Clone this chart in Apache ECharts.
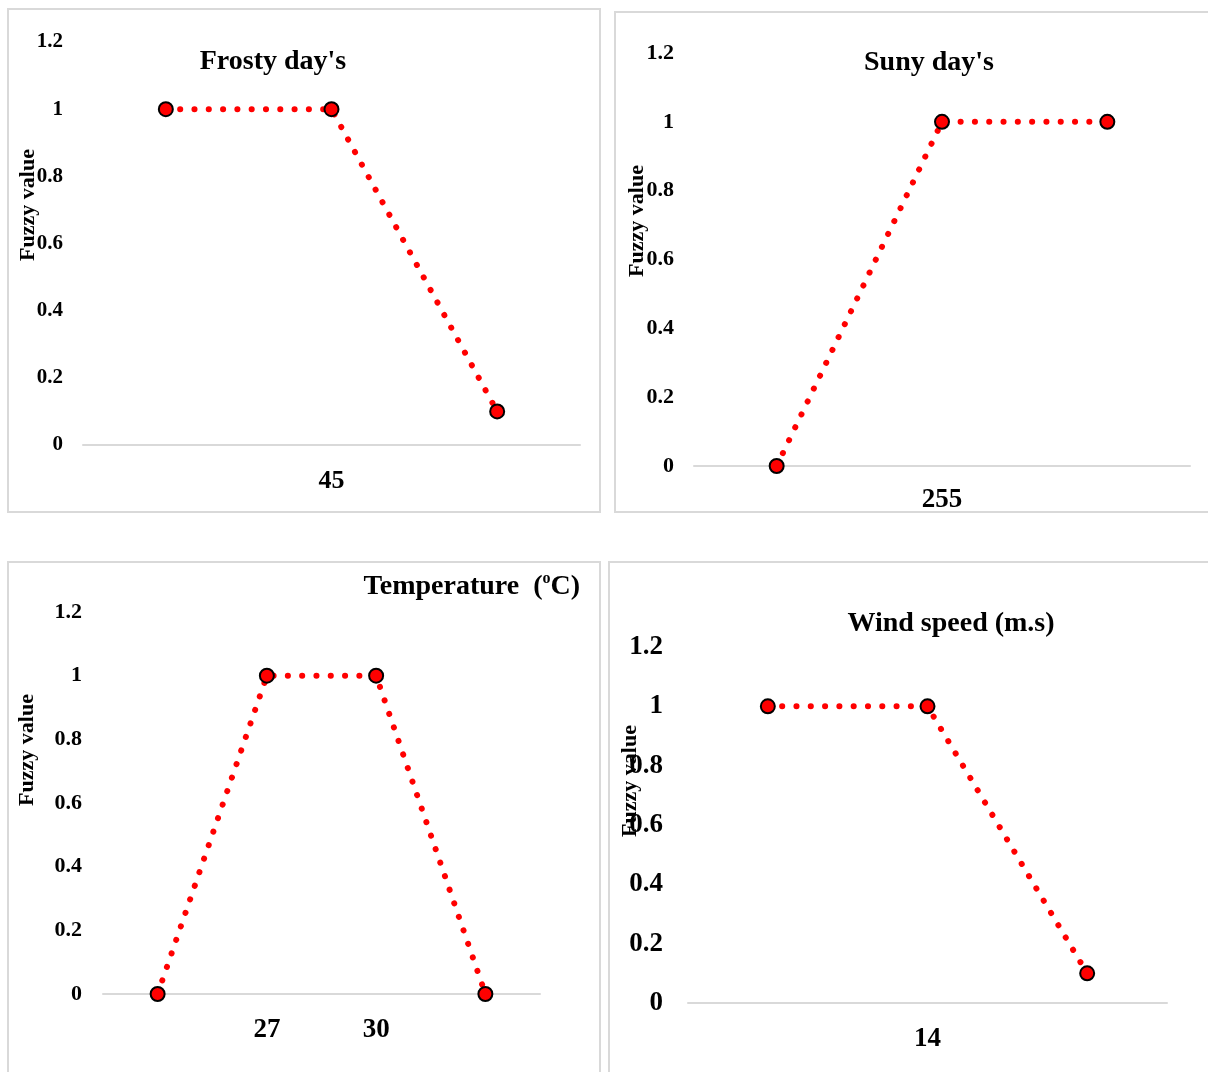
<!DOCTYPE html>
<html>
<head>
<meta charset="utf-8">
<script src="https://cdn.jsdelivr.net/npm/echarts@6/dist/echarts.min.js"></script>
<style>
  html, body { margin: 0; padding: 0; background: #fff; }
  #chart { width: 1208px; height: 1072px; }
</style>
</head>
<body>
<div id="chart"></div>
<script>
// Membership functions of the four fuzzy inputs
const frostyCats = ['', '45', ''];
const frostyVals = [1, 1, 0.1];

const sunnyCats = ['', '255', ''];
const sunnyVals = [0, 1, 1];

const tempCats = ['', '27', '30', ''];
const tempVals = [0, 1, 1, 0];

const windCats = ['', '14', ''];
const windVals = [1, 1, 0.1];

const yMin = 0, yMax = 1.2, yStep = 0.2;

const SERIF = '"Liberation Serif", "Times New Roman", serif';
const GRID_LINE = '#d9d9d9';

const panels = [
  { cats: frostyCats, vals: frostyVals, grid: { left: 83, right: 628, top: 42, bottom: 627 },
    tickSize: 21, tickMargin: 20, catSize: 26, catMargin: 23 },
  { cats: sunnyCats, vals: sunnyVals, grid: { left: 694, right: 18, top: 53, bottom: 606 },
    tickSize: 22, tickMargin: 20, catSize: 27, catMargin: 21 },
  { cats: tempCats, vals: tempVals, grid: { left: 103, right: 668, top: 612, bottom: 78 },
    tickSize: 22, tickMargin: 21, catSize: 27, catMargin: 23 },
  { cats: windCats, vals: windVals, grid: { left: 688, right: 41, top: 647, bottom: 69 },
    tickSize: 27, tickMargin: 25, catSize: 27, catMargin: 23 }
];

const grids = panels.map(p => Object.assign({ containLabel: false }, p.grid));

const xAxes = panels.map((p, i) => ({
  type: 'category',
  gridIndex: i,
  data: p.cats,
  boundaryGap: true,
  axisLine: { show: true, lineStyle: { color: GRID_LINE, width: 2 } },
  axisTick: { show: false },
  splitLine: { show: false },
  axisLabel: {
    interval: 0,
    margin: p.catMargin,
    color: '#000',
    fontFamily: SERIF,
    fontWeight: 'bold',
    fontSize: p.catSize
  }
}));

const yAxes = panels.map((p, i) => ({
  type: 'value',
  gridIndex: i,
  min: yMin,
  max: yMax,
  interval: yStep,
  axisLine: { show: false },
  axisTick: { show: false },
  splitLine: { show: false },
  axisLabel: {
    margin: p.tickMargin,
    color: '#000',
    fontFamily: SERIF,
    fontWeight: 'bold',
    fontSize: p.tickSize
  }
}));

const series = panels.map((p, i) => ({
  type: 'line',
  xAxisIndex: i,
  yAxisIndex: i,
  data: p.vals,
  symbol: 'circle',
  symbolSize: 14,
  showSymbol: true,
  itemStyle: { color: '#ff0000', borderColor: '#000', borderWidth: 2 },
  lineStyle: { color: '#ff0000', width: 6, type: [0.1, 14.2], cap: 'round' },
  animation: false,
  z: 3
}));

const titleFont = { fontFamily: SERIF, fontWeight: 'bold', fontSize: 28, color: '#000' };

const titles = [
  { text: "Frosty day's", left: 273, top: 62, textAlign: 'center', textVerticalAlign: 'middle', padding: 0, textStyle: titleFont },
  { text: "Suny day's", left: 929, top: 63, textAlign: 'center', textVerticalAlign: 'middle', padding: 0, textStyle: titleFont },
  { text: '{t|Temperature  (}{s|o}{t|C)}', left: 580, top: 587, textAlign: 'right', textVerticalAlign: 'middle', padding: 0,
    textStyle: Object.assign({}, titleFont, {
      rich: {
        t: { fontFamily: SERIF, fontWeight: 'bold', fontSize: 28, color: '#000', lineHeight: 32 },
        s: { fontFamily: SERIF, fontWeight: 'bold', fontSize: 16, color: '#000', lineHeight: 32, verticalAlign: 'top', padding: [0, 0, 9, 0] }
      }
    }) },
  { text: 'Wind speed (m.s)', left: 951, top: 624, textAlign: 'center', textVerticalAlign: 'middle', padding: 0, textStyle: titleFont }
];

// Panel frames
const frames = [
  [8, 9, 592, 503],
  [615, 12, 600, 500],
  [8, 562, 592, 520],
  [609, 562, 610, 520]
].map(r => ({
  type: 'rect',
  shape: { x: r[0], y: r[1], width: r[2], height: r[3] },
  style: { fill: 'none', stroke: GRID_LINE, lineWidth: 2 },
  silent: true,
  z: 0
}));

// Rotated "Fuzzy value" captions beside each value axis
const yNames = [[28, 205], [637, 221], [27, 750], [630, 781]].map(c => ({
  type: 'text',
  x: c[0],
  y: c[1],
  rotation: Math.PI / 2,
  style: {
    text: 'Fuzzy value',
    align: 'center',
    verticalAlign: 'middle',
    font: 'bold 22px ' + SERIF,
    fill: '#000'
  },
  z: 5
}));

const chart = echarts.init(document.getElementById('chart'), null, { renderer: 'canvas' });
chart.setOption({
  backgroundColor: '#ffffff',
  animation: false,
  title: titles,
  grid: grids,
  xAxis: xAxes,
  yAxis: yAxes,
  series: series,
  graphic: { elements: frames.concat(yNames) }
});
</script>
</body>
</html>
